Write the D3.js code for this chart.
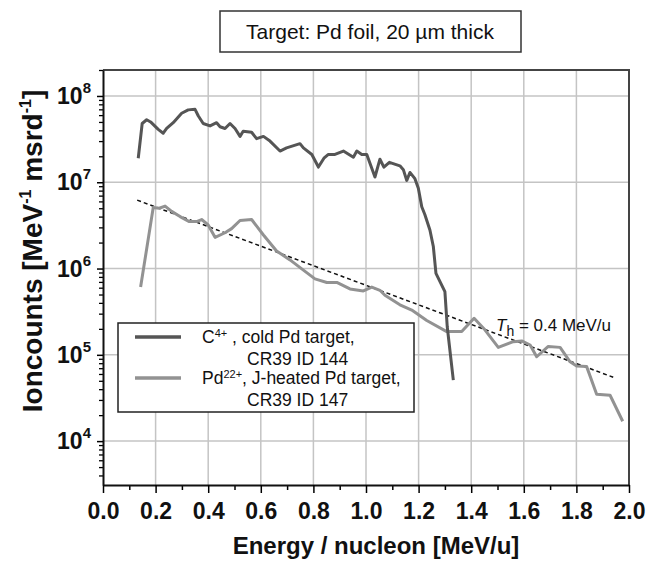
<!DOCTYPE html>
<html lang="en">
<head>
<meta charset="UTF-8">
<title>Ion spectra, Pd foil</title>
<style>
  body { margin: 0; background: #fff; }
  svg text { font-family: "Liberation Sans", Arial, sans-serif; fill: #111; }
  .grid line { stroke: #c4c4c4; stroke-width: 1.5; }
</style>
</head>
<body>
<div id="chart"></div>
<script src="https://d3js.org/d3.v7.min.js"></script>
<script>
// C4+, cold Pd target (CR39 ID 144)
const energyC = [0.134, 0.149, 0.166, 0.181, 0.210, 0.229, 0.242, 0.267, 0.299, 0.324, 0.350, 0.362,
  0.381, 0.407, 0.432, 0.445, 0.464, 0.483, 0.502, 0.521, 0.533, 0.565, 0.584, 0.610, 0.635, 0.673,
  0.698, 0.749, 0.762, 0.794, 0.819, 0.840, 0.857, 0.882, 0.914, 0.952, 0.965, 0.984, 1.003, 1.034,
  1.053, 1.068, 1.089, 1.129, 1.142, 1.155, 1.167, 1.186, 1.199, 1.212, 1.224, 1.243, 1.256, 1.266,
  1.300, 1.309, 1.332];
const countsC = [1.9e7, 4.8e7, 5.3e7, 5.0e7, 4.1e7, 3.7e7, 4.2e7, 4.9e7, 6.3e7, 6.9e7, 7.0e7, 5.9e7,
  4.8e7, 4.5e7, 4.9e7, 4.4e7, 4.2e7, 4.8e7, 4.2e7, 3.4e7, 3.9e7, 3.8e7, 3.2e7, 3.4e7, 3.0e7, 2.3e7,
  2.5e7, 2.8e7, 2.5e7, 2.1e7, 1.5e7, 1.9e7, 2.1e7, 2.1e7, 2.3e7, 1.95e7, 2.3e7, 2.1e7, 2.1e7, 1.15e7,
  1.85e7, 1.5e7, 1.7e7, 1.55e7, 1.4e7, 1.05e7, 1.3e7, 1.1e7, 8.5e6, 5.2e6, 4.2e6, 2.8e6, 1.8e6, 8.8e5,
  5.4e5, 2.1e5, 5.1e4];

// Pd22+, J-heated Pd target (CR39 ID 147)
const energyPd = [0.143, 0.191, 0.214, 0.236, 0.261, 0.293, 0.328, 0.356, 0.375, 0.400, 0.426, 0.464,
  0.489, 0.521, 0.565, 0.610, 0.660, 0.711, 0.762, 0.806, 0.851, 0.889, 0.939, 0.990, 1.022, 1.053,
  1.072, 1.129, 1.174, 1.231, 1.307, 1.364, 1.411, 1.452, 1.503, 1.560, 1.592, 1.624, 1.649, 1.693,
  1.738, 1.776, 1.801, 1.839, 1.877, 1.928, 1.976];
const countsPd = [6.1e5, 5.1e6, 5.0e6, 5.3e6, 4.6e6, 4.0e6, 3.5e6, 3.5e6, 3.7e6, 3.2e6, 2.3e6, 2.6e6,
  2.9e6, 3.6e6, 3.7e6, 2.45e6, 1.6e6, 1.26e6, 9.6e5, 7.6e5, 6.9e5, 6.9e5, 5.8e5, 5.5e5, 6.1e5, 5.6e5,
  4.9e5, 3.8e5, 3.3e5, 2.5e5, 1.86e5, 1.86e5, 2.65e5, 1.95e5, 1.22e5, 1.42e5, 1.45e5, 1.3e5, 9.5e4, 1.25e5,
  1.22e5, 8.3e4, 7.4e4, 7.3e4, 3.5e4, 3.4e4, 1.7e4];

// exponential fit, T_h = 0.4 MeV/u
const fitEnergy = [0.13, 1.94];
const fitCounts = [6.2e6, 5.5e4];

const xTickValues = [0, 0.2, 0.4, 0.6, 0.8, 1.0, 1.2, 1.4, 1.6, 1.8, 2.0];
const yTickExponents = [4, 5, 6, 7, 8];

const width = 649, height = 561;
const margin = {top: 70, right: 20, bottom: 76, left: 103};

const svg = d3.select("#chart").append("svg")
    .attr("width", width)
    .attr("height", height);

const x = d3.scaleLinear().domain([0, 2]).range([margin.left, width - margin.right]);
const y = d3.scaleLog().domain([3.1e3, 2e8]).range([height - margin.bottom, margin.top]);

// grid
const grid = svg.append("g").attr("class", "grid");
grid.selectAll(".gx").data(xTickValues.slice(1, -1)).enter().append("line")
    .attr("x1", d => x(d)).attr("x2", d => x(d))
    .attr("y1", margin.top).attr("y2", height - margin.bottom);
grid.selectAll(".gy").data(yTickExponents).enter().append("line")
    .attr("x1", margin.left).attr("x2", width - margin.right)
    .attr("y1", d => y(Math.pow(10, d))).attr("y2", d => y(Math.pow(10, d)));

// frame (top + right)
svg.append("path")
    .attr("d", `M${margin.left},${margin.top}H${width - margin.right}V${height - margin.bottom}`)
    .attr("fill", "none").attr("stroke", "#444").attr("stroke-width", 2);

// x axis: minor then major ticks
const xMinor = d3.range(0.1, 2, 0.2);
svg.append("g")
    .attr("transform", `translate(0,${height - margin.bottom})`)
    .call(d3.axisBottom(x).tickValues(xMinor).tickSize(5).tickFormat(""))
    .call(g => g.select(".domain").remove())
    .selectAll("line").attr("stroke-width", 1.5);

const xAxis = svg.append("g")
    .attr("transform", `translate(0,${height - margin.bottom})`)
    .call(d3.axisBottom(x).tickValues(xTickValues).tickSize(8).tickSizeOuter(0).tickPadding(10)
        .tickFormat(d3.format(".1f")));
xAxis.select(".domain").attr("stroke", "#111").attr("stroke-width", 2);
xAxis.selectAll("line").attr("stroke-width", 1.5);
xAxis.selectAll("text")
    .attr("font-size", 23).attr("font-weight", "bold").attr("fill", "#111");

// y axis: minor ticks 2..9 per decade
const yMinor = [];
for (let e = 3; e <= 8; e++) {
  for (let m = 2; m <= 9; m++) {
    const v = m * Math.pow(10, e);
    if (v >= 3.1e3 && v <= 2e8) yMinor.push(v);
  }
}
svg.append("g")
    .attr("transform", `translate(${margin.left},0)`)
    .call(d3.axisLeft(y).tickValues(yMinor).tickSize(4).tickFormat(""))
    .call(g => g.select(".domain").remove())
    .selectAll("line").attr("stroke-width", 1.3);

const yAxis = svg.append("g")
    .attr("transform", `translate(${margin.left},0)`)
    .call(d3.axisLeft(y).tickValues(yTickExponents.map(e => Math.pow(10, e)))
        .tickSize(6).tickSizeOuter(0).tickFormat(""));
yAxis.select(".domain").attr("stroke", "#111").attr("stroke-width", 2);
yAxis.selectAll("line").attr("stroke-width", 1.5);

const yLab = svg.append("g").selectAll("text").data(yTickExponents).enter().append("text")
    .attr("x", margin.left - 12)
    .attr("y", d => y(Math.pow(10, d)) + 8)
    .attr("text-anchor", "end")
    .attr("font-size", 23).attr("font-weight", "bold");
yLab.append("tspan").text("10");
yLab.append("tspan").attr("dy", -11).attr("font-size", 15).text(d => d);

// data lines
const line = d3.line().x(d => x(d[0])).y(d => y(d[1]));

svg.append("path")
    .datum(fitEnergy.map((e, i) => [e, fitCounts[i]]))
    .attr("d", line)
    .attr("fill", "none").attr("stroke", "#111").attr("stroke-width", 1.5)
    .attr("stroke-dasharray", "4,3");

svg.append("path")
    .datum(energyPd.map((e, i) => [e, countsPd[i]]))
    .attr("d", line)
    .attr("fill", "none").attr("stroke", "#929292").attr("stroke-width", 3)
    .attr("stroke-linejoin", "round");

svg.append("path")
    .datum(energyC.map((e, i) => [e, countsC[i]]))
    .attr("d", line)
    .attr("fill", "none").attr("stroke", "#555").attr("stroke-width", 3)
    .attr("stroke-linejoin", "round");

// T_h annotation
const th = svg.append("text")
    .attr("x", 496).attr("y", 331)
    .attr("font-size", 17);
th.append("tspan").attr("font-style", "italic").text("T");
th.append("tspan").attr("dy", 5).attr("font-size", 14).text("h");
th.append("tspan").attr("dy", -5).text(" = 0.4 MeV/u");

// legend
const legend = svg.append("g");
legend.append("rect")
    .attr("x", 118).attr("y", 323).attr("width", 296).attr("height", 89)
    .attr("fill", "#fff").attr("stroke", "#222").attr("stroke-width", 1.5);

const legendItems = [
  {color: "#555", ion: "C", charge: "4+", rest: " , cold Pd target,", id: "CR39 ID 144", y: 337},
  {color: "#929292", ion: "Pd", charge: "22+", rest: ", J-heated Pd target,", id: "CR39 ID 147", y: 378}
];
legendItems.forEach(it => {
  legend.append("line")
      .attr("x1", 135).attr("x2", 181).attr("y1", it.y).attr("y2", it.y)
      .attr("stroke", it.color).attr("stroke-width", 3.5);
  const t = legend.append("text").attr("x", 202).attr("y", it.y + 6).attr("font-size", 17.5);
  t.append("tspan").text(it.ion);
  t.append("tspan").attr("dy", -6).attr("font-size", 11).text(it.charge);
  t.append("tspan").attr("dy", 6).text(it.rest);
  legend.append("text").attr("x", 247).attr("y", it.y + 28).attr("font-size", 17.5).text(it.id);
});

// title box
svg.append("rect")
    .attr("x", 220).attr("y", 11).attr("width", 301).attr("height", 41)
    .attr("fill", "#fff").attr("stroke", "#333").attr("stroke-width", 1.5);
svg.append("text")
    .attr("x", 370).attr("y", 39)
    .attr("text-anchor", "middle").attr("font-size", 21)
    .text("Target: Pd foil, 20 \u00b5m thick");

// axis titles
svg.append("text")
    .attr("x", 376).attr("y", 554)
    .attr("text-anchor", "middle").attr("font-size", 24).attr("font-weight", "bold")
    .text("Energy / nucleon [MeV/u]");

const yt = svg.append("text")
    .attr("transform", "translate(42,251) rotate(-90)")
    .attr("text-anchor", "middle").attr("font-size", 28).attr("font-weight", "bold");
yt.append("tspan").text("Ioncounts  [MeV");
yt.append("tspan").attr("dy", -11).attr("font-size", 16).text("-1");
yt.append("tspan").attr("dy", 11).text(" msrd");
yt.append("tspan").attr("dy", -11).attr("font-size", 16).text("-1");
yt.append("tspan").attr("dy", 11).text("]");
</script>
</body>
</html>
